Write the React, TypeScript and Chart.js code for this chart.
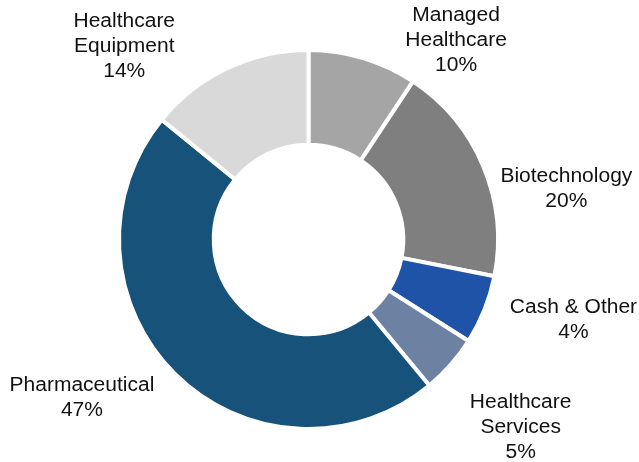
import React, { useEffect, useRef } from "react";
import { Chart, registerables } from "chart.js";

Chart.register(...registerables);

// Sectors in clockwise order starting at 12 o'clock
const categories = [
  "Managed Healthcare",
  "Biotechnology",
  "Cash & Other",
  "Healthcare Services",
  "Pharmaceutical",
  "Healthcare Equipment",
];
const labelLines = [
  ["Managed", "Healthcare"],
  ["Biotechnology"],
  ["Cash & Other"],
  ["Healthcare", "Services"],
  ["Pharmaceutical"],
  ["Healthcare", "Equipment"],
];
// slice sizes (share of the ring, %)
const weights = [9.3, 18.8, 5.9, 5.0, 46.9, 14.1];
// percentage texts printed on the chart
const percentLabels = ["10%", "20%", "4%", "5%", "47%", "14%"];
const colors = ["#A5A5A5", "#7F7F7F", "#1E53A8", "#6D82A3", "#17527B", "#D9D9D9"];

// label offsets from the outer mid-point of each slice (layout only)
const labelOffsets: [number, number][] = [
  [93, -18],
  [83, 23],
  [89, 10],
  [70, 63],
  [-93, 24],
  [-103, -22],
];

const FONT_SIZE = 20;
const LINE_H = 25;
const X_STRETCH = 1.05;

const labelPlugin = {
  id: "outerLabels",
  afterDatasetsDraw(chart: any) {
    const ctx = chart.ctx;
    const meta = chart.getDatasetMeta(0);
    ctx.save();
    ctx.fillStyle = "#111111";
    ctx.font = `${FONT_SIZE}px "Liberation Sans", Arial, sans-serif`;
    ctx.textAlign = "center";
    ctx.textBaseline = "middle";
    meta.data.forEach((arc: any, i: number) => {
      const p = arc.getProps(["x", "y", "startAngle", "endAngle", "outerRadius"], true);
      const mid = (p.startAngle + p.endAngle) / 2;
      const ax = p.x + Math.cos(mid) * p.outerRadius;
      const ay = p.y + Math.sin(mid) * p.outerRadius;
      const cx = ax + labelOffsets[i][0];
      const cy = ay + labelOffsets[i][1];
      const lines = [...labelLines[i], percentLabels[i]];
      const top = cy - ((lines.length - 1) * LINE_H) / 2;
      lines.forEach((t, k) => {
        ctx.save();
        ctx.translate(cx, top + k * LINE_H);
        ctx.scale(X_STRETCH, 1);
        ctx.fillText(t, 0, 0);
        ctx.restore();
      });
    });
    ctx.restore();
  },
};

export default function App() {
  const ref = useRef<HTMLCanvasElement | null>(null);
  useEffect(() => {
    if (!ref.current) return;
    const chart = new Chart(ref.current, {
      type: "doughnut",
      data: {
        labels: categories,
        datasets: [
          {
            data: weights,
            backgroundColor: colors,
            borderColor: "#FFFFFF",
            borderWidth: 4,
            hoverOffset: 0,
          },
        ],
      },
      options: {
        responsive: false,
        animation: false,
        cutout: "50%",
        layout: { padding: { left: 117, right: 139, top: 48, bottom: 31 } },
        plugins: {
          legend: { display: false },
          tooltip: { enabled: false },
        },
        events: [],
      },
      plugins: [labelPlugin],
    });
    return () => chart.destroy();
  }, []);
  return (
    <div style={{ position: "fixed", left: 0, top: 0, width: 639, height: 462, background: "#fff" }}>
      <canvas ref={ref} width={639} height={462} />
    </div>
  );
}
